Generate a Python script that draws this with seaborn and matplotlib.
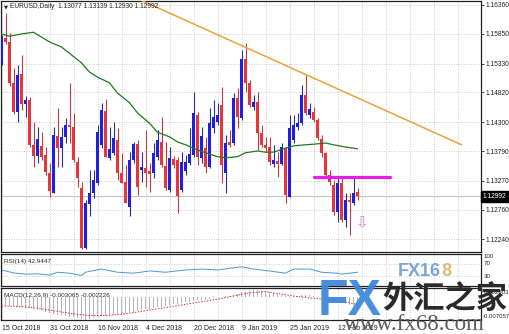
import numpy as np
import matplotlib
matplotlib.use("Agg")
import matplotlib.pyplot as plt
import matplotlib.transforms as mtrans
import seaborn as sns

# ---------------- data ----------------
opens = [1.1536, 1.1578, 1.1571, 1.1499, 1.1448, 1.1515, 1.1462, 1.1469, 1.1390, 1.1370,
         1.1388, 1.1372, 1.1340, 1.1305, 1.1405, 1.1384, 1.1404, 1.1425, 1.1421, 1.1360,
         1.1314, 1.1208, 1.1286, 1.1305, 1.1323, 1.1390, 1.1449, 1.1367, 1.1376, 1.1398,
         1.1340, 1.1324, 1.1281, 1.1363, 1.1391, 1.1346, 1.1349, 1.1344, 1.1340, 1.1369,
         1.1395, 1.1353, 1.1310, 1.1365, 1.1363, 1.1310, 1.1344, 1.1358, 1.1372, 1.1442,
         1.1367, 1.1384, 1.1351, 1.1420, 1.1430, 1.1460, 1.1340, 1.1395, 1.1393, 1.1472,
         1.1437, 1.1541, 1.1499, 1.1456, 1.1465, 1.1411, 1.1390, 1.1386, 1.1356, 1.1361,
         1.1356, 1.1384, 1.1298, 1.1398, 1.1421, 1.1428, 1.1478, 1.1442, 1.1448, 1.1434,
         1.1400, 1.1376, 1.1337, 1.1319, 1.1272, 1.1323, 1.1258, 1.1293, 1.1288, 1.13077]
highs = [1.1583, 1.1622, 1.1587, 1.1525, 1.1530, 1.1548, 1.1476, 1.1474, 1.1430, 1.1421,
         1.1412, 1.1386, 1.1358, 1.1421, 1.1455, 1.1421, 1.1437, 1.1499, 1.1446, 1.1369,
         1.1324, 1.1293, 1.1346, 1.1346, 1.1425, 1.1464, 1.1471, 1.1421, 1.1430, 1.1420,
         1.1376, 1.1354, 1.1377, 1.1395, 1.1398, 1.1377, 1.1416, 1.1358, 1.1393, 1.1416,
         1.1439, 1.1395, 1.1386, 1.1370, 1.1369, 1.1377, 1.1372, 1.1420, 1.1483, 1.1448,
         1.1421, 1.1404, 1.1455, 1.1469, 1.1464, 1.1492, 1.1407, 1.1416, 1.1481, 1.1490,
         1.1557, 1.1569, 1.1504, 1.1478, 1.1483, 1.1425, 1.1404, 1.1404, 1.1390, 1.1377,
         1.1393, 1.1386, 1.1442, 1.1442, 1.1446, 1.1495, 1.1513, 1.1464, 1.1456, 1.1437,
         1.1407, 1.1377, 1.1346, 1.1328, 1.1332, 1.1332, 1.1305, 1.1305, 1.1332, 1.13139]
lows = [1.1530, 1.1567, 1.1493, 1.1444, 1.1430, 1.1451, 1.1439, 1.1386, 1.1351, 1.1358,
        1.1363, 1.1337, 1.1298, 1.1305, 1.1351, 1.1351, 1.1393, 1.1393, 1.1360, 1.1316,
        1.1206, 1.1206, 1.1265, 1.1296, 1.1319, 1.1384, 1.1369, 1.1363, 1.1372, 1.1328,
        1.1323, 1.1288, 1.1265, 1.1358, 1.1302, 1.1324, 1.1316, 1.1307, 1.1332, 1.1363,
        1.1351, 1.1310, 1.1307, 1.1349, 1.1270, 1.1307, 1.1337, 1.1354, 1.1369, 1.1354,
        1.1358, 1.1340, 1.1349, 1.1411, 1.1425, 1.1323, 1.1305, 1.1386, 1.1390, 1.1420,
        1.1434, 1.1483, 1.1456, 1.1451, 1.1381, 1.1386, 1.1377, 1.1354, 1.1351, 1.1333,
        1.1354, 1.1288, 1.1298, 1.1393, 1.1416, 1.1425, 1.1442, 1.1437, 1.1430, 1.1398,
        1.1369, 1.1333, 1.1319, 1.1266, 1.1254, 1.1254, 1.1245, 1.1231, 1.1284, 1.12930]
closes = [1.1576, 1.1571, 1.1499, 1.1448, 1.1513, 1.1462, 1.1469, 1.1390, 1.1370, 1.1400,
          1.1369, 1.1342, 1.1309, 1.1407, 1.1384, 1.1404, 1.1425, 1.1421, 1.1363, 1.1332,
          1.1208, 1.1288, 1.1305, 1.1328, 1.1412, 1.1451, 1.1369, 1.1383, 1.1402, 1.1340,
          1.1323, 1.1288, 1.1363, 1.1391, 1.1316, 1.1351, 1.1340, 1.1339, 1.1376, 1.1398,
          1.1354, 1.1314, 1.1367, 1.1354, 1.1300, 1.1360, 1.1360, 1.1374, 1.1446, 1.1369,
          1.1405, 1.1351, 1.1428, 1.1439, 1.1442, 1.1354, 1.1393, 1.1390, 1.1472, 1.1439,
          1.1541, 1.1499, 1.1460, 1.1465, 1.1411, 1.1390, 1.1384, 1.1360, 1.1363, 1.1356,
          1.1386, 1.1302, 1.1420, 1.1425, 1.1428, 1.1478, 1.1446, 1.1453, 1.1434, 1.1402,
          1.1376, 1.1337, 1.1324, 1.1272, 1.1323, 1.1258, 1.1293, 1.1289, 1.1305, 1.12992]

ma_idx = [0, 2, 5, 8, 12, 15, 17, 20, 22, 24, 27, 29, 32, 34, 37, 39, 42, 44, 46, 49,
          51, 54, 56, 59, 61, 64, 66, 68, 71, 73, 76, 78, 81, 83, 86, 89]
ma_val = [1.1585, 1.1581, 1.1585, 1.1588, 1.1571, 1.1562, 1.1551, 1.1534, 1.1518, 1.1509,
          1.1499, 1.1481, 1.1464, 1.1446, 1.1428, 1.1412, 1.1404, 1.1395, 1.1390, 1.1381,
          1.1376, 1.1369, 1.1367, 1.1369, 1.1376, 1.1379, 1.1377, 1.1377, 1.1384, 1.1388,
          1.1390, 1.1391, 1.1393, 1.1390, 1.1386, 1.1383]

rsi_idx = [0, 3, 6, 9, 12, 14, 17, 20, 21, 25, 29, 33, 37, 41, 46, 50, 54, 58, 60, 63,
           67, 71, 73, 77, 80, 84, 85, 89]
rsi_val = [50, 41, 37, 38, 34, 43, 40, 33, 43, 53, 43, 40, 47, 43, 50, 53, 50, 57, 60, 53,
           47, 40, 53, 53, 43, 40, 37, 42.9447]

macd_hist = [-0.0028, -0.0027, -0.0027, -0.0028, -0.0029, -0.0030,
             -0.0032, -0.0034, -0.0037, -0.0040, -0.0043, -0.0046,
             -0.0049, -0.0052, -0.0054, -0.0056, -0.0058, -0.0061,
             -0.0063, -0.0065, -0.0068, -0.0070, -0.0068, -0.0065,
             -0.0062, -0.0059, -0.0058, -0.0056, -0.0054, -0.0052,
             -0.0051, -0.0050, -0.0047, -0.0045, -0.0043, -0.0040,
             -0.0038, -0.0036, -0.0033, -0.0031, -0.0029, -0.0027,
             -0.0024, -0.0022, -0.0020, -0.0018, -0.0016, -0.0014,
             -0.0011, -0.0010, -0.0008, -0.0007, -0.0004, -0.0002,
             0.0000, 0.0001, 0.0003, 0.0005, 0.0008, 0.0010,
             0.0015, 0.0021, 0.0024, 0.0024, 0.0022, 0.0020,
             0.0018, 0.0015, 0.0012, 0.0010, 0.0008, 0.0004,
             0.0005, 0.0005, 0.0005, 0.0006, 0.0007, 0.0006,
             0.0004, 0.0002, 0.0000, -0.0004, -0.0007, -0.0011,
             -0.0014, -0.0018, -0.0022, -0.0025, -0.0028, -0.003065]
sig_idx = [0, 6, 10, 14, 18, 22, 26, 30, 34, 38, 42, 46, 50, 54, 58, 62, 66, 70, 74, 78,
           82, 86, 89]
sig_val = [-0.0027, -0.0030, -0.0036, -0.0044, -0.0052, -0.0057, -0.0057, -0.0053, -0.0046,
           -0.0038, -0.0030, -0.0022, -0.0014, -0.0006, 0.0004, 0.0014, 0.0018, 0.0010,
           0.0002, -0.0003, -0.0007, -0.0015, -0.002226]

price_ticks = [1.16360, 1.15850, 1.15330, 1.14820, 1.14300, 1.13790, 1.13270, 1.12760, 1.12240]
date_pos = [0, 12, 24, 36, 48, 60, 72, 84]
date_labels = ["15 Oct 2018", "31 Oct 2018", "16 Nov 2018", "4 Dec 2018",
               "20 Dec 2018", "9 Jan 2019", "25 Jan 2019", "12 Feb 2019"]
trend_idx = [35, 115]
trend_val = [1.1644, 1.1390]
level_idx = [78, 97]
level_val = [1.1333, 1.1333]
arrow_idx = 90
arrow_price = 1.1253
last_price = 1.12992
title_text = "EURUSD,Daily  1.13077 1.13139 1.12930 1.12992"
rsi_label = "RSI(14) 42.9447"
macd_label = "MACD(12,26,9) -0.003065 -0.002226"

# ---------------- style ----------------
sns.set_style("white")
plt.rcParams['font.family'] = ['Liberation Sans', 'DejaVu Sans']

W, H = 510, 334
fig = plt.figure(figsize=(W / 100, H / 100), dpi=100)
fig.patch.set_facecolor("white")


def box(x0, y0, x1, y1):
    return [x0 / W, 1 - y1 / H, (x1 - x0) / W, (y1 - y0) / H]


ax = fig.add_axes(box(0.5, 1, 481, 252))
ax_r = fig.add_axes(box(0.5, 254, 481, 286))
ax_m = fig.add_axes(box(0.5, 288, 481, 320))

XL = (-0.25, 119.875)
grid_kw = dict(color="#b9b9b9", lw=0.6, ls=(0, (1, 2)))
for a in (ax, ax_r, ax_m):
    a.set_xlim(*XL)
    a.set_facecolor("white")
    for s in a.spines.values():
        s.set_color("#202020")
        s.set_linewidth(0.9)
    for k in range(0, 120, 6):
        a.axvline(k, zorder=0, **grid_kw)

# ---------------- main price panel ----------------
o = np.array(opens); h = np.array(highs); l = np.array(lows); c = np.array(closes)
idx = np.arange(len(o))
up = c >= o
body_col = np.where(up, "#1f1fe0", "#e8353a")
wick_col = np.where(up, "#2a2ab0", "#c83a3a")
ax.vlines(idx, l, h, colors=wick_col, lw=0.8, zorder=3)
body_h = np.maximum(np.abs(c - o), 0.00016)
ax.bar(idx, body_h, bottom=np.minimum(o, c), width=0.68, color=body_col, lw=0, zorder=4)

sns.lineplot(x=ma_idx, y=ma_val, ax=ax, color="#1d7a1d", lw=0.9, zorder=5)
sns.lineplot(x=trend_idx, y=trend_val, ax=ax, color="#eaa23c", lw=1.1, zorder=5)
sns.lineplot(x=level_idx, y=level_val, ax=ax, color="#e41ee4", lw=2.3, zorder=6)
ax.axhline(last_price, color="#c4c4c4", lw=0.8, zorder=1)

ax.set_ylim(1.12013, 1.16430)
ax.set_yticks(price_ticks)
ax.set_yticklabels([f"{v:.5f}" for v in price_ticks])
ax.yaxis.tick_right()
ax.tick_params(axis="y", length=2, width=0.6, pad=1.5, labelsize=4.8, colors="#202020")
ax.grid(axis="y", **grid_kw)
ax.set_xticks([])
ax.set_xlabel(""); ax.set_ylabel("")

ax.text(arrow_idx, arrow_price, "\u21e9", ha="center", va="center", fontsize=11,
        color="#e07ae0", family=["DejaVu Sans"], zorder=7)

trans = mtrans.blended_transform_factory(ax.transAxes, ax.transData)
ax.text(1.004, last_price, "1.12992", transform=trans, ha="left", va="center",
        fontsize=4.8, color="white",
        bbox=dict(boxstyle="square,pad=0.25", fc="black", ec="black"), zorder=8,
        clip_on=False)

fig.text(3.5 / W, 1 - 6.5 / H, "\u25bc", fontsize=3.8, va="center", ha="left",
         family=["DejaVu Sans"])
fig.text(10 / W, 1 - 6.5 / H, title_text, fontsize=4.8, va="center", ha="left")

# ---------------- RSI panel ----------------
sns.lineplot(x=rsi_idx, y=rsi_val, ax=ax_r, color="#4a97d6", lw=0.7)
ax_r.set_ylim(0, 100)
for lv in (30, 70):
    ax_r.axhline(lv, zorder=0, **grid_kw)
ax_r.set_xticks([]); ax_r.set_yticks([])
ax_r.set_xlabel(""); ax_r.set_ylabel("")
ax_r.text(0.008, 0.78, rsi_label, transform=ax_r.transAxes, fontsize=4.6,
          va="center", ha="left")
ytr = mtrans.blended_transform_factory(ax_r.transAxes, ax_r.transData)
for v, txt, va in [(100, "100", "top"), (70, "70", "center"), (30, "30", "center")]:
    ax_r.text(1.006, v, txt, transform=ytr, fontsize=4.4, va=va, ha="left", clip_on=False)

# ---------------- MACD panel ----------------
ax_m.bar(idx, macd_hist, width=0.3, color="#b5b5b5", lw=0, zorder=2)
sns.lineplot(x=sig_idx, y=sig_val, ax=ax_m, color="#e03030", lw=0.7, ls=(0, (1.5, 1.5)), zorder=3)
ax_m.set_ylim(-0.0071, 0.0029)
ax_m.set_yticks([])
ax_m.set_xlabel(""); ax_m.set_ylabel("")
ax_m.text(0.008, 0.78, macd_label, transform=ax_m.transAxes, fontsize=4.6,
          va="center", ha="left")
mtr = mtrans.blended_transform_factory(ax_m.transAxes, ax_m.transData)
ax_m.text(1.006, 0.0024, "0.002903", transform=mtr, fontsize=4.4, va="top", ha="left", clip_on=False)
ax_m.text(1.004, -0.0068, "-0.007057", transform=mtr, fontsize=4.3, va="bottom", ha="left", clip_on=False)
ax_m.set_xticks(date_pos)
ax_m.set_xticklabels(date_labels)
ax_m.tick_params(axis="x", length=2, width=0.6, pad=1.5, labelsize=5.0, colors="#202020")
for lbl in ax_m.get_xticklabels():
    lbl.set_horizontalalignment("left")

# ---------------- watermark ----------------
fig.text(398 / W, 1 - 272 / H, "FX16", fontsize=13, fontweight="bold", color="#6496cc",
         va="center", ha="left", alpha=0.85)
fig.text(441 / W, 1 - 272 / H, "8", fontsize=13, fontweight="bold", color="#d9b25a",
         va="center", ha="left", alpha=0.85)
fig.text(318 / W, 1 - 302 / H, "FX", fontsize=36, fontweight="bold", color="#3a86d8",
         va="center", ha="left", alpha=0.92)
fig.text(382 / W, 1 - 299 / H, "外汇之家", fontsize=22.5, fontweight="bold", color="#2a2a2a",
         va="center", ha="left", family=["Noto Sans CJK SC", "DejaVu Sans"])
fig.text(344 / W, 1 - 325 / H, "www.fx68.com", fontsize=16.5, color="#5a5a5a",
         va="center", ha="left", family=["Liberation Serif", "DejaVu Serif"])

fig.savefig("out.png", dpi=100, facecolor="white")
